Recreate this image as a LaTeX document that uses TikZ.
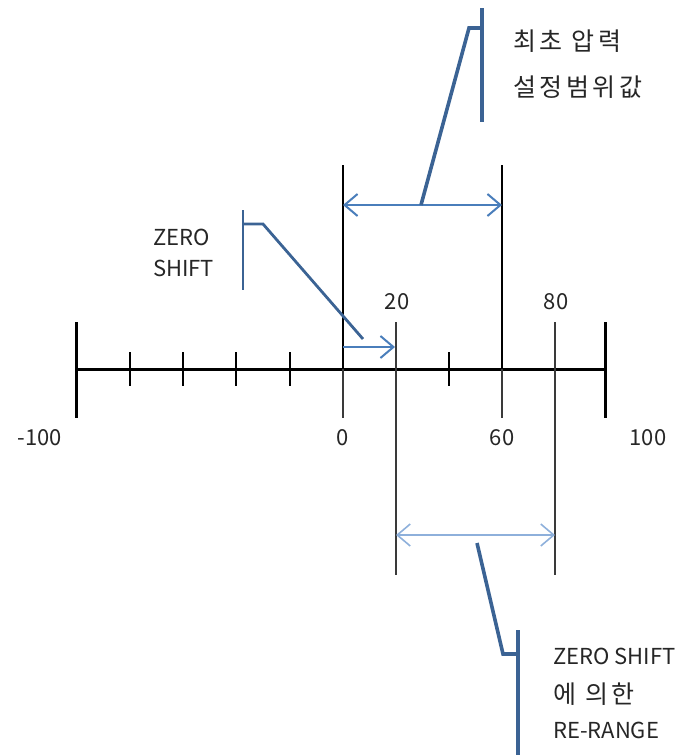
\documentclass[tikz,border=0pt]{standalone}
\usepackage{fontspec}
\setmainfont{Noto Sans CJK KR}
\newfontfamily\kofont[LetterSpace=14]{Noto Sans CJK KR}
\usetikzlibrary{arrows.meta, positioning, calc}
\definecolor{callblue}{HTML}{3B6394}
\definecolor{arrblue}{HTML}{4A7EBB}
\definecolor{paleblue}{HTML}{8EB0DB}
\definecolor{txtgray}{HTML}{262626}
\definecolor{lngray}{HTML}{3A3A3A}

\begin{document}
\begin{tikzpicture}[x=1pt, y=-1pt,
  axisline/.style={black, line width=3pt},
  endtick/.style={black, line width=3pt},
  minortick/.style={black, line width=1.5pt},
  rangeline/.style={black, line width=2.6pt},
  thinline/.style={lngray, line width=1.4pt},
  barb/.tip={Straight Barb[length=13pt, width=22pt]},
  dimarrow/.style={arrblue, line width=2pt, barb-barb},
  shiftarrow/.style={arrblue, line width=2pt, -barb},
  rerangearrow/.style={paleblue, line width=1.6pt, barb-barb},
  callout/.style={callblue, line width=3.6pt},
  lbl/.style={font=\fontsize{22}{24}\selectfont, text=txtgray, inner sep=0pt},
  note/.style={lbl, anchor=west},
  konote/.style={note, font=\kofont\fontsize{25}{28}\selectfont}]

% frame of the picture
\useasboundingbox (0,0) rectangle (680,755);

% =========== AXIS ===========
\coordinate (lo) at (76,369);
\coordinate (hi) at (605,369);
\draw[axisline] (lo) -- (hi);
\draw[endtick] (76,322) -- (76,418);
\draw[endtick] (605,322) -- (605,418);

% small ticks every 20
\foreach \x in {130,183,236,290,449}
  \draw[minortick] (\x,352) -- (\x,386);

% first range 0 .. 60
\draw[rangeline] (343,165) -- (343,369);
\draw[rangeline] (502,165) -- (502,369);
\draw[thinline] (343,369) -- (343,418);
\draw[thinline] (502,369) -- (502,418);

% shifted range 20 .. 80
\draw[thinline] (396,322) -- (396,575);
\draw[thinline] (555,322) -- (555,575);

% numbers
\node[lbl] (nm100) at (40,438) {-100};
\node[lbl] (n0) at (343,438) {0};
\node[lbl] (n60) at (502,438) {60};
\node[lbl] (n100) at (648,438) {100};
\node[lbl] (n20) at (397,302) {20};
\node[lbl] (n80) at (556,302) {80};

% =========== ARROWS ===========
\coordinate (a0) at (343,205);
\coordinate (a60) at (502,205);
\draw[dimarrow] (a0) -- (a60);

\coordinate (s0) at (343,347);
\coordinate (s20) at (395,347);
\draw[shiftarrow] (s0) -- (s20);

\coordinate (r20) at (396,535);
\coordinate (r80) at (555,535);
\draw[rerangearrow] (r20) -- (r80);

% =========== CALLOUTS ===========
% initial range
\coordinate (k1foot) at (421,205);
\coordinate (k1knee) at (469,28);
\coordinate (k1bar) at (482,28);
\draw[callout] (k1foot) -- (k1knee) -- (k1bar);
\draw[callout] (482,8) -- (482,122);
\node[konote] (initial) at (513,41) {최초 압력};
\node[konote] (setrange) at (513,87) {설정범위값};

% zero shift
\coordinate (k2foot) at (363,339);
\coordinate (k2knee) at (263,224);
\coordinate (k2bar) at (243,224);
\draw[callout, line width=2.8pt] (k2foot) -- (k2knee) -- (k2bar);
\draw[callout, line width=2.8pt] (243,210) -- (243,290);
\node[note] (zero) at (153,237) {ZERO};
\node[note] (shift) at (153,268) {SHIFT};

% re-range
\coordinate (k3foot) at (477,543);
\coordinate (k3knee) at (503,654);
\coordinate (k3bar) at (518,654);
\draw[callout] (k3foot) -- (k3knee) -- (k3bar);
\draw[callout] (518,630) -- (518,755);
\node[note] (zshift) at (553,656) {ZERO SHIFT};
\node[konote] (byhan) at (553,694) {에 의한};
\node[note] (rerange) at (553,730) {RE-RANGE};

\end{tikzpicture}
\end{document}
